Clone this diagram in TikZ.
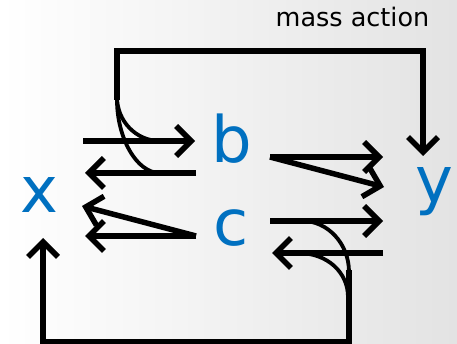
\documentclass[tikz,border=0pt]{standalone}
\usepackage{fontspec}
\setmainfont{DejaVu Sans}
\usetikzlibrary{arrows.meta}
\definecolor{spblue}{RGB}{0,112,192}

\begin{document}
\begin{tikzpicture}[x=1pt,y=-1pt,
  flow/.style={line width=5.5pt,-{Straight Barb[length=15pt,width=30pt]}},
  modcurve/.style={line width=3.8pt},
  species/.style={text=spblue,font=\fontsize{64}{64}\selectfont,inner sep=0pt,anchor=base}]
  \useasboundingbox (0,0) rectangle (457,344);
  \shade[left color=white,middle color=black!3,right color=black!11] (0,0) rectangle (457,344);
  % species
  \node[species] (x) at (39.5,213) {x};
  \node[species] (b) at (232,163) {b};
  \node[species] (c) at (231.5,246) {c};
  \node[species] (y) at (434.5,203) {y};
  \node[font=\fontsize{25.5}{26}\selectfont,inner sep=0pt,anchor=base] (lbl) at (352.5,27) {mass action};
  % arrow ends
  \coordinate (xb0) at (83,141);   \coordinate (xb1) at (195,141);
  \coordinate (bx0) at (196,173);  \coordinate (bx1) at (85,173);
  \coordinate (by0) at (270,157);  \coordinate (by1) at (383,157);
  \coordinate (by2) at (384,187);
  \coordinate (cx0) at (196,236);  \coordinate (cx1) at (85,236);
  \coordinate (cx2) at (82,206);
  \coordinate (cy0) at (270,221);  \coordinate (cy1) at (383,221);
  \coordinate (yc0) at (383,253);  \coordinate (yc1) at (272,253);
  % x <-> b
  \draw[flow] (xb0) -- (xb1);
  \draw[flow] (bx0) -- (bx1);
  % b -> y
  \draw[flow] (by0) -- (by1);
  \draw[flow] (by0) -- (by2);
  % c -> x
  \draw[flow] (cx0) -- (cx1);
  \draw[flow] (cx0) -- (cx2);
  % c <-> y
  \draw[flow] (cy0) -- (cy1);
  \draw[flow] (yc0) -- (yc1);
  % y acts on x <-> b
  \coordinate (top) at (117,100);
  \draw[flow] (top) -- (117,51) -- (423,51) -- (423,156);
  \draw[modcurve] (117,97) .. controls (117,121) and (136,141) .. (160,141);
  \draw[modcurve] (117,100) .. controls (117,137) and (136,173) .. (160,173);
  % c <-> y acts on x
  \coordinate (bot) at (349,270);
  \draw[flow] (bot) -- (349,341.5) -- (43,341.5) -- (43,238);
  \draw[modcurve] (303,221) .. controls (327,221) and (349,243) .. (349,272);
  \draw[modcurve] (298,253) .. controls (327,253) and (348,272) .. (348,297);
\end{tikzpicture}
\end{document}
